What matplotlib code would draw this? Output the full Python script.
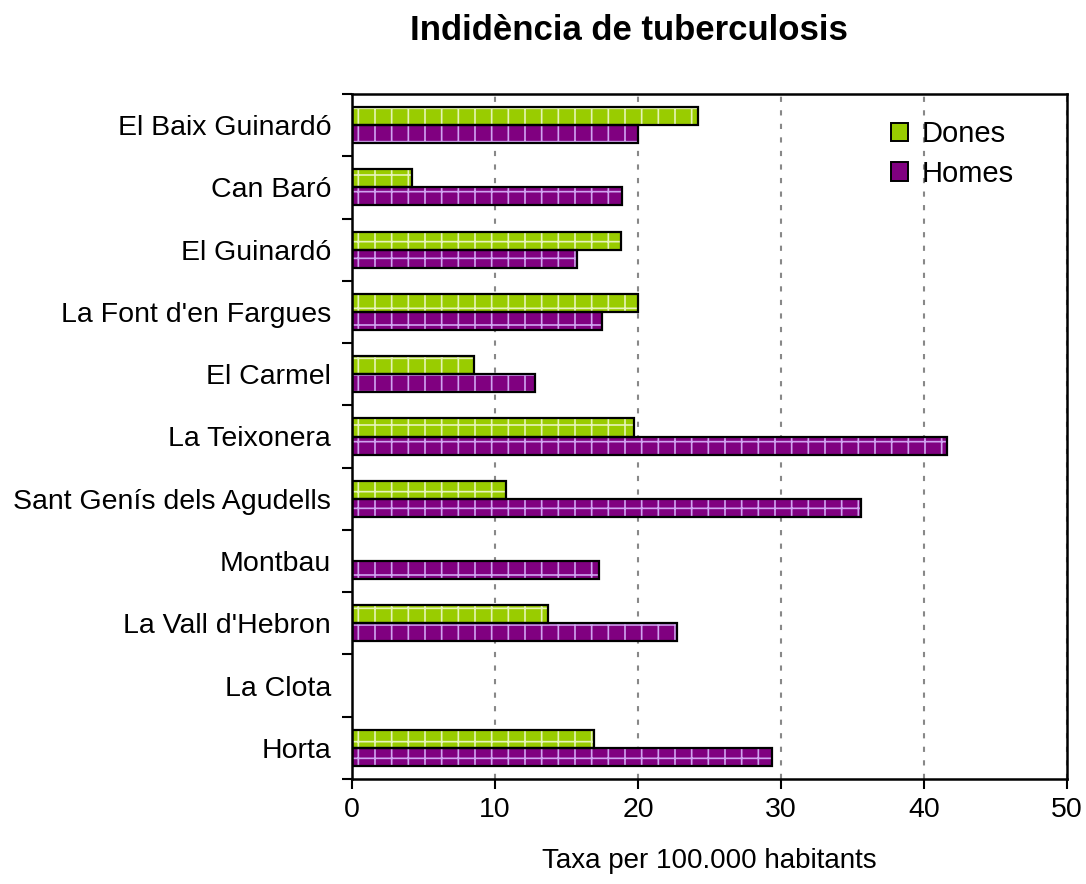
import matplotlib
matplotlib.use("Agg")
import matplotlib.pyplot as plt
import numpy as np

plt.rcParams['font.family'] = ['Liberation Sans', 'DejaVu Sans']
plt.rcParams['hatch.linewidth'] = 1.2

categories = ["El Baix Guinardó", "Can Baró", "El Guinardó", "La Font d'en Fargues",
              "El Carmel", "La Teixonera", "Sant Genís dels Agudells", "Montbau",
              "La Vall d'Hebron", "La Clota", "Horta"]
dones = [24.2, 4.2, 18.8, 20.0, 8.5, 19.7, 10.8, 0.0, 13.7, 0.0, 16.9]
homes = [20.0, 18.9, 15.7, 17.5, 12.8, 41.6, 35.6, 17.3, 22.7, 0.0, 29.4]
xticks = [0, 10, 20, 30, 40, 50]

fig = plt.figure(figsize=(10.86, 8.84), dpi=100)
ax = fig.add_axes([352/1086, 1-779/884, (1067-352)/1086, (779-94)/884])

n = len(categories)
y = np.arange(n)
h = 0.29
green, green_h = '#99CC00', '#e6f3b8'
purple, purple_h = '#800080', '#d0a4f0'

def draw(vals, offset, fc, hc, label):
    for i, v in enumerate(vals):
        if v <= 0:
            continue
        ax.barh(y[i] + offset, v, height=h, color=fc, edgecolor=hc, hatch='+',
                linewidth=0, zorder=3)
        ax.barh(y[i] + offset, v, height=h, fill=False, edgecolor='black',
                linewidth=1.6, zorder=4)
    return ax.bar(0, 0, color=fc, edgecolor='black', linewidth=1.4, label=label)

draw(dones, -h/2, green, green_h, 'Dones')
draw(homes, h/2, purple, purple_h, 'Homes')

ax.set_ylim(n - 0.5, -0.5)
ax.set_xlim(0, 50)
ax.set_xticks(xticks)
ax.set_yticks(y)
ax.set_yticklabels(categories, fontsize=20.5)
ax.set_yticks(np.arange(-0.5, n, 1), minor=True)
ax.tick_params(axis='y', which='major', length=0, pad=15)
ax.tick_params(axis='y', which='minor', length=7, width=1.5, direction='out')
ax.tick_params(axis='x', which='major', length=7, width=1.5, direction='out',
               labelsize=20.5, pad=6)
for x in xticks[1:]:
    ax.axvline(x, color='#888888', linestyle=(0, (2.5, 4)), linewidth=1.5, zorder=1)
for s in ['left', 'bottom', 'top', 'right']:
    ax.spines[s].set_linewidth(1.8)
    ax.spines[s].set_zorder(5)

ax.set_xlabel('Taxa per 100.000 habitants', fontsize=20, labelpad=18)
fig.text(629/1086, 1-30/884, 'Indidència de tuberculosis', fontsize=25,
         fontweight='bold', ha='center', va='center')

leg = ax.legend(loc='upper left', bbox_to_anchor=(0.717, 1.0), frameon=False,
                fontsize=21, handlelength=0.6, handleheight=0.6,
                handletextpad=0.45, labelspacing=0.4)

fig.savefig('out.png', dpi=100)
